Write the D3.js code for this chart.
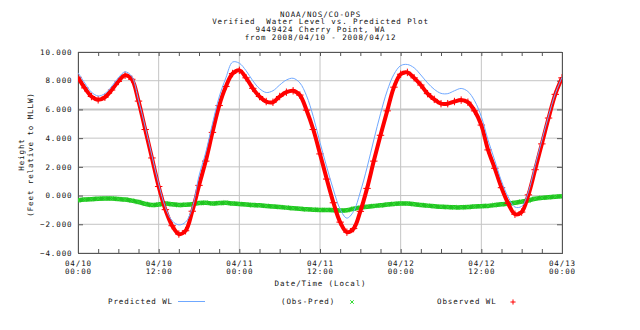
<!DOCTYPE html>
<html><head><meta charset="utf-8">
<script src="https://cdn.jsdelivr.net/npm/d3@7"></script>
<style>
body{margin:0;background:#fff;}
text{font-family:"DejaVu Sans Mono","Liberation Mono",monospace;font-size:7.5px;letter-spacing:0.9px;fill:#111;}
</style></head>
<body><svg id="c" width="640" height="330"></svg>
<script>
// hours since 2008/04/10 00:00 (hourly readings)
const hours = d3.range(0, 73);
const predicted = [8.56,7.85,7.2,6.94,7.1,7.6,8.2,8.62,8.3,6.64,4.78,2.78,0.82,-0.82,-1.75,-2.04,-1.85,-0.85,1.37,3.0,5.0,6.87,8.2,9.3,9.22,
  8.7,8.0,7.45,7.18,7.3,7.7,8.05,8.17,7.85,6.95,5.5,3.7,2.0,0.4,-0.95,-1.57,-1.1,0.25,1.95,3.87,5.7,7.3,8.45,9.05,
  9.13,8.9,8.4,7.85,7.4,7.12,7.1,7.3,7.46,7.25,6.6,5.5,3.87,2.45,1.0,-0.1,-0.8,-0.75,0.27,2.1,3.85,5.55,7.1,8.24];
const observed = [8.24,7.5,6.9,6.67,6.85,7.35,7.95,8.38,8.1,6.58,4.6,2.62,0.63,-0.98,-2.1,-2.68,-2.45,-1.09,0.71,2.4,4.4,6.27,7.6,8.5,8.72,
  8.2,7.47,6.9,6.55,6.5,6.9,7.2,7.3,7.0,5.95,4.6,2.9,1.15,-0.5,-1.85,-2.55,-2.3,-1.1,0.5,2.4,4.2,5.9,7.55,8.45,
  8.58,8.2,7.7,7.1,6.7,6.4,6.4,6.55,6.65,6.5,5.9,4.91,3.18,1.9,0.55,-0.55,-1.3,-1.15,0.05,1.8,3.6,5.4,7.05,8.2];
const residual = [-0.32,-0.28,-0.25,-0.22,-0.2,-0.2,-0.24,-0.28,-0.35,-0.45,-0.58,-0.66,-0.62,-0.55,-0.6,-0.66,-0.64,-0.6,-0.52,-0.5,-0.55,-0.52,-0.5,-0.55,-0.58,
  -0.62,-0.66,-0.68,-0.72,-0.76,-0.8,-0.84,-0.88,-0.92,-0.96,-0.98,-1.0,-1.0,-1.02,-1.04,-1.02,-0.92,-0.84,-0.78,-0.72,-0.68,-0.62,-0.58,-0.55,
  -0.56,-0.6,-0.65,-0.7,-0.74,-0.78,-0.8,-0.82,-0.82,-0.8,-0.76,-0.74,-0.72,-0.66,-0.6,-0.56,-0.5,-0.42,-0.34,-0.22,-0.16,-0.12,-0.08,-0.04];
const xTickHours = [0,12,24,36,48,60,72];
const xTickDates = ["04/10","04/10","04/11","04/11","04/12","04/12","04/13"];
const xTickTimes = ["00:00","12:00","00:00","12:00","00:00","12:00","00:00"];
const yTicks = [-4,-2,0,2,4,6,8,10];
const titleLines = ["NOAA/NOS/CO-OPS","Verified  Water Level vs. Predicted Plot","9449424 Cherry Point, WA","from 2008/04/10 - 2008/04/12"];

const svg = d3.select("#c");
const L=78,R=562,T=52,B=253;
const x = d3.scaleLinear().domain([0,72]).range([L,R]);
const y = d3.scaleLinear().domain([-4,10]).range([B,T]);

// title
titleLines.forEach((t,i)=>svg.append("text").attr("x",320.5).attr("y",16.7+i*7.6).attr("text-anchor","middle").attr("xml:space","preserve").text(t));

// grid
const g = svg.append("g");
yTicks.forEach(v=>g.append("line").attr("x1",L).attr("x2",R).attr("y1",y(v)).attr("y2",y(v))
  .attr("stroke","#c4c4c4").attr("stroke-width",v===6?2:1));
xTickHours.forEach(h=>g.append("line").attr("x1",x(h)).attr("x2",x(h)).attr("y1",T).attr("y2",B).attr("stroke","#c4c4c4"));

// axes with inward ticks
const axB = d3.axisBottom(x).tickValues(d3.range(0,73,3)).tickSize(-4).tickFormat("");
const axT = d3.axisTop(x).tickValues(d3.range(0,73,3)).tickSize(-4).tickFormat("");
const axL = d3.axisLeft(y).tickValues(yTicks).tickSize(-5).tickFormat("");
const axR = d3.axisRight(y).tickValues(yTicks).tickSize(-5).tickFormat("");
[[axB,`translate(0,${B})`],[axT,`translate(0,${T})`],[axL,`translate(${L},0)`],[axR,`translate(${R},0)`]].forEach(([a,t])=>{
  const s=svg.append("g").attr("transform",t).call(a);
  s.selectAll("path,line").attr("stroke","#555");
});

// tick labels
yTicks.forEach(v=>svg.append("text").attr("x",72.5).attr("y",y(v)+2.7).attr("text-anchor","end").text(d3.format(".3f")(v)));
xTickHours.forEach((h,i)=>{
  svg.append("text").attr("x",x(h)+0.5).attr("y",266).attr("text-anchor","middle").text(xTickDates[i]);
  svg.append("text").attr("x",x(h)+0.5).attr("y",273.8).attr("text-anchor","middle").text(xTickTimes[i]);
});
svg.append("text").attr("x",320.5).attr("y",286).attr("text-anchor","middle").text("Date/Time (Local)");
svg.append("text").attr("transform","translate(24,154.5) rotate(-90)").attr("text-anchor","middle").text("Height");
svg.append("text").attr("transform","translate(32.5,154.5) rotate(-90)").attr("text-anchor","middle").text("(Feet relative to MLLW)");

// data
const line = arr => d3.line().x((d,i)=>x(hours[i])).y(d=>y(d)).curve(d3.curveCatmullRom)(arr);
svg.append("clipPath").attr("id","pc").append("rect").attr("x",L).attr("y",T).attr("width",R-L).attr("height",B-T);
const pg = svg.append("g").attr("clip-path","url(#pc)");

// residual (green x)
pg.append("path").attr("d",line(residual)).attr("fill","none").attr("stroke","#22c322").attr("stroke-width",4.5);
const xs = d3.symbol().type(d3.symbolX).size(14);
pg.selectAll(".gx").data(residual).join("path").attr("transform",(d,i)=>`translate(${x(hours[i])},${y(d)})`)
  .attr("d",xs).attr("fill","none").attr("stroke","#33dd33").attr("stroke-width",1);

// observed (red +)
const plus = d3.symbol().type(d3.symbolPlus||d3.symbolCross).size(20);
pg.append("path").attr("d",line(observed)).attr("fill","none").attr("stroke","#ff0000").attr("stroke-width",4);
pg.selectAll(".rp").data(observed).join("path").attr("transform",(d,i)=>`translate(${x(hours[i])},${y(d)})`)
  .attr("d",plus).attr("fill","none").attr("stroke","#ff0000").attr("stroke-width",1);

// predicted (blue line)
pg.append("path").attr("d",line(predicted)).attr("fill","none").attr("stroke","#6fa8ff").attr("stroke-width",1);

// legend
const plusSmall = d3.symbol().type(d3.symbolPlus||d3.symbolCross).size(10);
svg.append("text").attr("x",108).attr("y",304).text("Predicted WL");
svg.append("line").attr("x1",178).attr("x2",205).attr("y1",301.5).attr("y2",301.5).attr("stroke","#6fa8ff");
svg.append("text").attr("x",281).attr("y",304).text("(Obs-Pred)");
svg.append("path").attr("transform","translate(352,302)").attr("d",d3.symbol().type(d3.symbolX).size(10)).attr("fill","none").attr("stroke","#33dd33");
svg.append("text").attr("x",437).attr("y",304).text("Observed WL");
svg.append("path").attr("transform","translate(513,302)").attr("d",plusSmall).attr("fill","none").attr("stroke","#ff0000");
</script></body></html>
